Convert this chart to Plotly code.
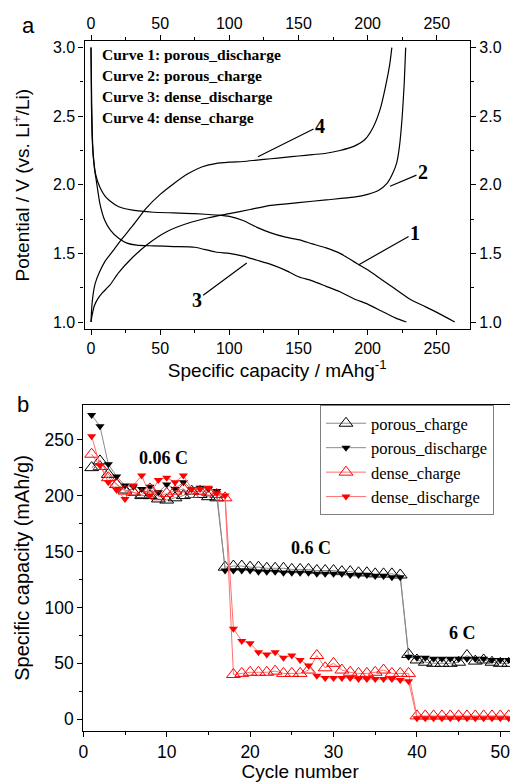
import plotly.graph_objects as go

# ---------------- Panel a data (capacity mAh/g, potential V) ----------------
c1_cap = [0, 0.3, 0.8, 1.7, 3.5, 6.5, 10, 14, 20, 30, 45, 60, 75, 90, 100, 110, 120, 130, 140, 150, 160, 170, 180, 190, 200, 210, 220, 230, 240, 250, 263]
c1_v = [3.0, 2.6, 2.35, 2.2, 2.07, 1.98, 1.92, 1.88, 1.84, 1.815, 1.80, 1.795, 1.79, 1.78, 1.77, 1.74, 1.69, 1.65, 1.62, 1.60, 1.57, 1.54, 1.50, 1.44, 1.38, 1.31, 1.24, 1.17, 1.12, 1.07, 1.0]

c2_cap = [0, 1, 2.5, 5, 8, 13.7, 20, 30, 40, 55, 70, 85, 100, 115, 130, 150, 170, 190, 200, 208, 214, 218, 221, 223, 225, 226.5, 227.5]
c2_v = [1.0, 1.06, 1.12, 1.17, 1.21, 1.27, 1.36, 1.47, 1.56, 1.66, 1.72, 1.76, 1.79, 1.82, 1.85, 1.87, 1.89, 1.91, 1.93, 1.96, 2.01, 2.08, 2.16, 2.28, 2.5, 2.75, 3.0]

c3_cap = [0, 0.5, 1.2, 2.5, 4, 6.5, 10, 14, 20, 26, 33, 45, 60, 75, 90, 100, 110, 120, 130, 140, 150, 160, 170, 180, 190, 200, 210, 220, 228]
c3_v = [3.0, 2.6, 2.3, 2.12, 2.02, 1.86, 1.74, 1.67, 1.61, 1.575, 1.56, 1.555, 1.55, 1.545, 1.51, 1.50, 1.48, 1.45, 1.42, 1.38, 1.33, 1.30, 1.26, 1.22, 1.17, 1.13, 1.08, 1.03, 1.0]

c4_cap = [0, 0.5, 1.5, 3, 6, 10, 16, 22, 30, 40, 50, 60, 70, 80, 90, 100, 110, 120, 130, 140, 150, 160, 170, 180, 190, 198, 204, 209, 213, 216, 217.5]
c4_v = [1.0, 1.1, 1.2, 1.28, 1.36, 1.44, 1.52, 1.6, 1.7, 1.83, 1.93, 2.01, 2.08, 2.13, 2.155, 2.165, 2.17, 2.18, 2.19, 2.2, 2.21, 2.22, 2.23, 2.25, 2.28, 2.33, 2.42, 2.55, 2.72, 2.88, 3.0]

a_xticks = [0, 50, 100, 150, 200, 250]
a_yticks = [1.0, 1.5, 2.0, 2.5, 3.0]
curve_legend = ["Curve 1: porous_discharge", "Curve 2: porous_charge",
                "Curve 3: dense_discharge", "Curve 4: dense_charge"]

# ---------------- Panel b data (cycle number, mAh/g) ----------------
cycles = list(range(1, 52))
porous_charge = [225, 231, 219, 210, 205, 203, 200, 200, 197, 196, 198, 200, 204, 201, 199, 198,
                 136, 137, 137, 136, 136, 135, 135, 135, 134, 134, 134, 133, 133, 133, 132, 132, 131, 131, 130, 130, 130, 129,
                 58, 53, 51, 50, 50, 50, 51, 57, 52, 53, 51, 50, 50]
porous_discharge = [272, 262, 228, 217, 209, 208, 206, 208, 203, 210, 206, 212, 206, 207, 206, 204,
                    133, 133, 133, 133, 132, 132, 132, 131, 131, 131, 131, 130, 130, 130, 130, 129, 129, 129, 128, 128, 127, 127,
                    56, 55, 55, 54, 54, 54, 54, 54, 54, 54, 53, 53, 53]
dense_charge = [237, 226, 216, 210, 204, 203, 201, 206, 199, 202, 204, 206, 201, 204, 203, 201, 198,
                40, 41, 42, 42, 42, 43, 41, 41, 41, 44, 57, 46, 50, 44, 42, 41, 41, 42, 44, 41, 41, 41,
                3, 3, 3, 3, 3, 3, 3, 3, 3, 3, 3, 3]
dense_discharge = [253, 227, 212, 205, 197, 209, 218, 200, 214, 216, 212, 218, 206, 206, 207, 202, 200,
                   81, 70, 68, 60, 58, 60, 55, 57, 53, 48, 39, 37, 37, 37, 37, 36, 36, 36, 36, 36, 35, 34,
                   1, 1, 1, 1, 1, 1, 1, 1, 1, 1, 1, 1]
b_xticks = [0, 10, 20, 30, 40, 50]
b_yticks = [0, 50, 100, 150, 200, 250]

# page body has an 8px margin: figure is placed at (8, 8) in the window
OFF = 8
W, H = 510, 774
def px(x):
    return (x - OFF) / W
def py(y):
    return 1 - (y - OFF) / H

SANS = "Liberation Sans, Arial, sans-serif"
SERIF = "Liberation Serif, Times New Roman, serif"

fig = go.Figure()

# Panel a curves
line_a = dict(color="black", width=1.2, shape="spline", smoothing=0.6)
fig.add_trace(go.Scatter(x=c1_cap, y=c1_v, mode="lines", line=line_a, xaxis="x", yaxis="y", showlegend=False, name="Curve 1"))
fig.add_trace(go.Scatter(x=c2_cap, y=c2_v, mode="lines", line=line_a, xaxis="x", yaxis="y", showlegend=False, name="Curve 2"))
fig.add_trace(go.Scatter(x=c3_cap, y=c3_v, mode="lines", line=line_a, xaxis="x2", yaxis="y2", showlegend=False, name="Curve 3"))
fig.add_trace(go.Scatter(x=c4_cap, y=c4_v, mode="lines", line=line_a, xaxis="x2", yaxis="y2", showlegend=False, name="Curve 4"))

# Panel b series
fig.add_trace(go.Scatter(x=cycles, y=porous_charge, mode="lines+markers", name="porous_charge",
                         line=dict(color="#8a8a8a", width=1),
                         marker=dict(symbol="triangle-up-open", size=12, color="black", line=dict(width=1)),
                         xaxis="x3", yaxis="y3"))
fig.add_trace(go.Scatter(x=cycles, y=porous_discharge, mode="lines+markers", name="porous_discharge",
                         line=dict(color="#8a8a8a", width=1),
                         marker=dict(symbol="triangle-down", size=8, color="black"),
                         xaxis="x3", yaxis="y3"))
fig.add_trace(go.Scatter(x=cycles, y=dense_charge, mode="lines+markers", name="dense_charge",
                         line=dict(color="#ff7070", width=1),
                         marker=dict(symbol="triangle-up-open", size=12, color="#ff0000", line=dict(width=1)),
                         xaxis="x3", yaxis="y3"))
fig.add_trace(go.Scatter(x=cycles, y=dense_discharge, mode="lines+markers", name="dense_discharge",
                         line=dict(color="#ff7070", width=1),
                         marker=dict(symbol="triangle-down", size=8, color="#ff0000"),
                         xaxis="x3", yaxis="y3"))

a_dom_x = [px(84.5), px(470)]
a_dom_y = [py(329), py(41.3)]
b_dom_x = [px(83.3), min(1.0, px(517))]
b_dom_y = [py(731), py(405)]
a_xr = [-4.7, 274]
a_yr = [0.949, 3.046]

axis_common = dict(showline=True, linecolor="black", linewidth=1.2, ticks="outside",
                   ticklen=5, tickwidth=1, tickcolor="black", showgrid=False, zeroline=False,
                   automargin=False,
                   tickfont=dict(family=SANS, size=16, color="black"))
b_axis = {**axis_common, "ticklen": 5, "tickfont": dict(family=SANS, size=17.5, color="black")}

fig.update_layout(
    width=W, height=H, margin=dict(l=0, r=0, t=0, b=0, autoexpand=False),
    paper_bgcolor="white", plot_bgcolor="white",
    xaxis=dict(domain=a_dom_x, range=a_xr, anchor="y", side="bottom", tickvals=a_xticks,
               minor=dict(tickvals=[25, 75, 125, 175, 225], ticks="outside", ticklen=3, tickcolor="black"),
               title=dict(text="Specific capacity / mAhg<sup>-1</sup>", font=dict(family=SANS, size=19, color="black"), standoff=6),
               **axis_common),
    yaxis=dict(domain=a_dom_y, range=a_yr, anchor="x", side="left", tickvals=a_yticks, tickformat=".1f",
               minor=dict(tickvals=[1.25, 1.75, 2.25, 2.75], ticks="outside", ticklen=3, tickcolor="black"),
               title=dict(text="Potential / V (vs. Li<sup>+</sup>/Li)", font=dict(family=SANS, size=19, color="black"), standoff=18),
               **axis_common),
    xaxis2=dict(domain=a_dom_x, range=a_xr, anchor="y2", overlaying="x", side="top", tickvals=a_xticks,
                minor=dict(tickvals=[25, 75, 125, 175, 225], ticks="outside", ticklen=3, tickcolor="black"),
                **axis_common),
    yaxis2=dict(domain=a_dom_y, range=a_yr, anchor="x2", overlaying="y", side="right", tickvals=a_yticks, tickformat=".1f",
                minor=dict(tickvals=[1.25, 1.75, 2.25, 2.75], ticks="outside", ticklen=3, tickcolor="black"),
                **axis_common),
    xaxis3=dict(domain=b_dom_x, range=[0, 52], anchor="y3", tickvals=b_xticks, mirror=True,
                minor=dict(tickvals=[5, 15, 25, 35, 45], ticks="outside", ticklen=3, tickcolor="black"),
                title=dict(text="Cycle number", font=dict(family=SANS, size=19, color="black"), standoff=5),
                **b_axis),
    yaxis3=dict(domain=b_dom_y, range=[-10.5, 281], anchor="x3", tickvals=b_yticks, mirror=True,
                minor=dict(tickvals=[25, 75, 125, 175, 225], ticks="outside", ticklen=3, tickcolor="black"),
                title=dict(text="Specific capacity (mAh/g)", font=dict(family=SANS, size=20, color="black"), standoff=9),
                **b_axis),
    legend=dict(x=px(320), y=py(405), xanchor="left", yanchor="top",
                bordercolor="#808080", borderwidth=1, bgcolor="white",
                font=dict(family=SERIF, size=16.5, color="black"),
                itemwidth=40, tracegroupgap=0),
)

annotations = []
# panel labels
annotations.append(dict(text="a", x=px(28), y=py(25), xref="paper", yref="paper", showarrow=False,
                        xanchor="center", yanchor="middle",
                        font=dict(family=SANS, size=22, color="black")))
annotations.append(dict(text="b", x=px(23), y=py(405), xref="paper", yref="paper", showarrow=False,
                        xanchor="center", yanchor="middle",
                        font=dict(family=SANS, size=22, color="black")))
# curve legend text in panel a
for i, t in enumerate(curve_legend):
    annotations.append(dict(text="<b>%s</b>" % t, x=px(100), y=py(55 + i * 20.7), xref="paper", yref="paper",
                            xanchor="left", yanchor="middle", showarrow=False,
                            font=dict(family=SERIF, size=15.5, color="black")))
# numbered pointers in panel a: (label x, label y, end x, end y)
pointers = [("4", 165.6, 2.43, 120.7, 2.205),
            ("2", 240.0, 2.09, 216.2, 1.99),
            ("1", 234.3, 1.65, 193.3, 1.416),
            ("3", 76.4, 1.16, 112.6, 1.43)]
for lab, lx, ly, ex, ey in pointers:
    annotations.append(dict(text="<b>%s</b>" % lab, x=ex, y=ey, ax=lx, ay=ly, xref="x", yref="y",
                            axref="x", ayref="y", showarrow=True, arrowhead=0, arrowwidth=1.2,
                            arrowcolor="black", standoff=0, startstandoff=0,
                            font=dict(family=SERIF, size=20, color="black")))
# rate labels in panel b
rates = [("0.06 C", 9.6, 234), ("0.6 C", 27.3, 153), ("6 C", 45.5, 77)]
for t, x, y in rates:
    annotations.append(dict(text="<b>%s</b>" % t, x=x, y=y, xref="x3", yref="y3", showarrow=False,
                            font=dict(family=SERIF, size=18, color="black")))
fig.update_layout(annotations=annotations)

fig.write_html("out.html")
